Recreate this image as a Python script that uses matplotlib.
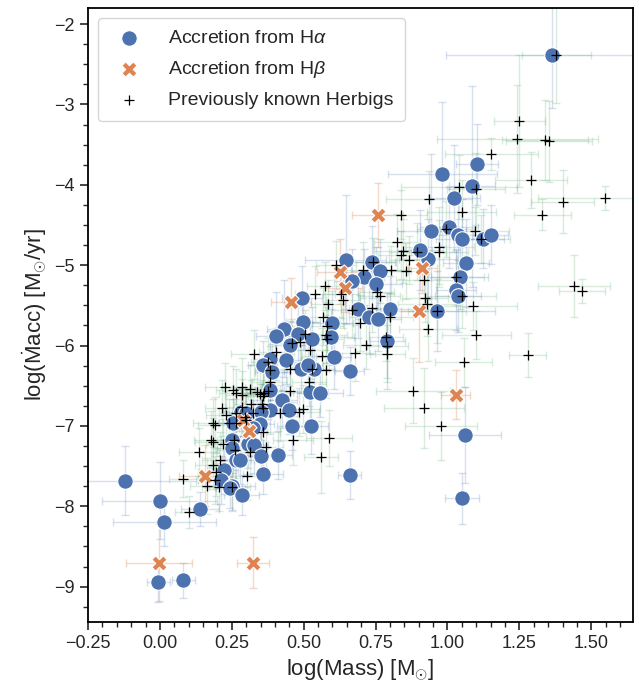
import matplotlib
matplotlib.use("Agg")
import matplotlib.pyplot as plt
from matplotlib.ticker import MultipleLocator
import seaborn as sns

# Accretion from H-alpha: log(Mass), log(Macc) and their errors
ha_mass = [1.365, 1.103, 0.982, 1.085, 1.023, 0.944, 1.005, 1.038, 1.051, 1.125,
           1.150, 0.932, 1.064, 1.042, 0.906, 0.737, 0.764, 0.646, 0.710, 0.667,
           0.752, 1.030, 1.038, 0.964, 0.690, 0.799, 0.727, 0.757, 0.791, 0.660,
           1.060, 0.660, 1.051, 0.495, 0.498, 0.600, 0.433, 0.480, 0.405, 0.530,
           0.596, 0.451, 0.384, 0.440, 0.604, 0.357, 0.391, 0.491, 0.535, 0.516,
           0.523, 0.556, 0.382, 0.426, 0.383, 0.449, 0.351, 0.281, 0.299, 0.458,
           0.525, 0.253, 0.347, 0.324, 0.252, 0.250, 0.307, 0.326, 0.266, 0.278,
           0.350, 0.410, 0.222, 0.359, 0.211, 0.252, 0.245, 0.284, -0.123, 0.000,
           0.139, 0.016, -0.005, 0.081]
ha_macc = [-2.39, -3.745, -3.866, -4.02, -4.17, -4.58, -4.53, -4.63, -4.68, -4.67,
           -4.62, -4.92, -4.97, -5.15, -4.81, -4.96, -5.07, -4.93, -5.15, -5.20,
           -5.23, -5.31, -5.38, -5.57, -5.55, -5.54, -5.65, -5.67, -5.94, -6.32,
           -7.11, -7.61, -7.90, -5.41, -5.71, -5.72, -5.79, -5.86, -5.88, -5.92,
           -5.89, -5.99, -6.17, -6.18, -6.14, -6.24, -6.33, -6.29, -6.29, -6.24,
           -6.58, -6.59, -6.55, -6.68, -6.80, -6.80, -6.83, -6.83, -6.84, -7.00,
           -7.00, -6.96, -6.98, -7.03, -7.17, -7.28, -7.22, -7.24, -7.42, -7.42,
           -7.37, -7.36, -7.55, -7.60, -7.67, -7.75, -7.77, -7.86, -7.68, -7.93,
           -8.03, -8.20, -8.94, -8.92]
ha_mass_err = [0.37, 0.073, 0.19, 0.08, 0.09, 0.12, 0.10, 0.08, 0.09, 0.07,
               0.06, 0.10, 0.08, 0.10, 0.08, 0.08, 0.10, 0.14, 0.07, 0.06,
               0.09, 0.07, 0.08, 0.20, 0.06, 0.08, 0.07, 0.08, 0.06, 0.05,
               0.125, 0.04, 0.06, 0.07, 0.06, 0.07, 0.06, 0.05, 0.07, 0.06,
               0.08, 0.05, 0.06, 0.05, 0.06, 0.05, 0.06, 0.05, 0.07, 0.05,
               0.06, 0.08, 0.05, 0.05, 0.06, 0.05, 0.05, 0.06, 0.05, 0.05,
               0.06, 0.05, 0.05, 0.05, 0.04, 0.05, 0.05, 0.05, 0.05, 0.05,
               0.06, 0.05, 0.05, 0.07, 0.05, 0.08, 0.05, 0.06, 0.25, 0.20,
               0.065, 0.18, 0.04, 0.04]
ha_macc_err = [0.65, 0.50, 0.90, 1.25, 0.67, 0.96, 0.50, 0.45, 0.50, 0.37,
               0.37, 0.50, 0.55, 0.40, 0.50, 0.45, 0.40, 0.80, 0.35, 0.40,
               0.45, 0.50, 0.45, 0.50, 0.35, 0.40, 0.45, 0.40, 0.60, 0.30,
               0.60, 0.30, 0.32, 0.40, 0.35, 0.40, 0.60, 0.35, 0.55, 0.40,
               0.35, 0.30, 0.35, 0.30, 0.40, 0.30, 0.35, 0.30, 0.35, 0.30,
               0.35, 0.30, 0.30, 0.35, 0.30, 0.30, 0.35, 0.30, 0.30, 0.30,
               0.35, 0.30, 0.30, 0.35, 0.30, 0.30, 0.30, 0.35, 0.30, 0.30,
               0.30, 0.30, 0.30, 0.25, 0.30, 0.30, 0.25, 0.25, 0.43, 0.48,
               0.21, 0.30, 0.25, 0.22]

# Accretion from H-beta
hb_mass = [0.757, 0.912, 0.625, 0.643, 0.457, 0.900, 1.028, 0.289, 0.310, 0.157,
           -0.002, 0.324]
hb_macc = [-4.375, -5.04, -5.08, -5.28, -5.46, -5.57, -6.61, -6.93, -7.06, -7.62,
           -8.70, -8.70]
hb_mass_err = [0.09, 0.05, 0.08, 0.06, 0.07, 0.06, 0.05, 0.05, 0.05, 0.09,
               0.115, 0.055]
hb_macc_err = [0.40, 0.30, 0.40, 0.30, 0.30, 0.63, 0.30, 0.30, 0.30, 0.38,
               0.48, 0.32]

# Previously known Herbigs
hb_known_mass = [1.378, 1.250, 1.242, 1.339, 1.354, 1.153, 1.289, 1.400, 1.546, 1.330,
                 1.040, 1.100, 0.936, 1.049, 0.995, 1.094, 1.118, 0.971, 0.972, 1.028,
                 0.840, 0.824, 0.845, 0.839, 0.895, 0.866, 0.803, 0.854, 0.740, 0.706,
                 0.755, 0.764, 0.628, 0.636, 0.920, 1.049, 0.922, 0.928, 0.964, 1.090,
                 0.738, 0.669, 0.801, 0.697, 0.933, 0.787, 0.791, 0.791, 1.100, 0.715,
                 0.677, 1.279, 1.440, 1.466, 1.056, 0.880, 0.918, 0.976, 0.613, 0.573,
                 0.539, 0.585, 0.567, 0.581, 0.505, 0.579, 0.581, 0.459, 0.486, 0.521,
                 0.326, 0.405, 0.563, 0.376, 0.382, 0.451, 0.528, 0.579, 0.518, 0.454,
                 0.227, 0.255, 0.285, 0.266, 0.3125, 0.336, 0.347, 0.362, 0.357, 0.377,
                 0.382, 0.287, 0.216, 0.231, 0.266, 0.287, 0.316, 0.324, 0.359, 0.355,
                 0.417, 0.484, 0.498, 0.185, 0.191, 0.240, 0.266, 0.295, 0.301, 0.357,
                 0.177, 0.183, 0.220, 0.257, 0.260, 0.368, 0.3125, 0.137, 0.208, 0.183,
                 0.463, 0.588, 0.561, 0.304, 0.081, 0.194, 0.191, 0.164, 0.206, 0.252,
                 0.102]
hb_known_macc = [-2.38, -3.21, -3.43, -3.44, -3.46, -3.62, -3.94, -4.21, -4.16, -4.37,
                 -4.03, -4.05, -4.18, -4.34, -4.55, -4.57, -4.67, -4.77, -4.84, -5.15,
                 -4.37, -4.71, -4.82, -4.87, -4.83, -4.94, -5.06, -5.07, -4.96, -5.06,
                 -5.33, -5.38, -5.36, -5.43, -5.19, -5.38, -5.41, -5.48, -5.57, -5.51,
                 -5.53, -5.56, -5.65, -5.72, -5.79, -5.89, -6.00, -6.10, -5.87, -5.99,
                 -6.09, -6.12, -5.26, -5.32, -6.21, -6.56, -6.78, -7.00, -5.00, -5.26,
                 -5.36, -5.48, -5.64, -5.76, -5.86, -5.87, -5.92, -5.97, -5.96, -6.06,
                 -6.11, -6.08, -6.13, -6.20, -6.31, -6.29, -6.29, -6.30, -6.45, -6.56,
                 -6.52, -6.55, -6.51, -6.59, -6.54, -6.58, -6.60, -6.59, -6.63, -6.56,
                 -6.45, -6.62, -6.78, -6.86, -6.84, -6.77, -6.73, -6.84, -6.78, -6.73,
                 -6.84, -6.83, -6.79, -6.96, -6.99, -6.96, -6.96, -6.89, -6.93, -7.07,
                 -7.17, -7.20, -7.22, -7.17, -7.30, -7.26, -7.32, -7.32, -7.42, -7.49,
                 -7.18, -7.15, -7.39, -7.62, -7.66, -7.57, -7.67, -7.75, -7.76, -7.76,
                 -8.07]
hb_known_mass_err = [0.12, 0.09, 0.28, 0.15, 0.15, 0.16, 0.125, 0.11, 0.23, 0.10,
                     0.20, 0.10, 0.15, 0.12, 0.10, 0.12, 0.10, 0.12, 0.10, 0.10,
                     0.09, 0.08, 0.10, 0.08, 0.10, 0.07, 0.07, 0.08, 0.08, 0.07,
                     0.06, 0.07, 0.06, 0.06, 0.10, 0.12, 0.08, 0.10, 0.10, 0.15,
                     0.08, 0.07, 0.08, 0.07, 0.10, 0.06, 0.07, 0.06, 0.12, 0.08,
                     0.07, 0.065, 0.125, 0.08, 0.10, 0.13, 0.14, 0.125, 0.07, 0.06,
                     0.07, 0.06, 0.07, 0.06, 0.06, 0.07, 0.06, 0.06, 0.05, 0.06,
                     0.08, 0.06, 0.07, 0.06, 0.05, 0.06, 0.06, 0.07, 0.06, 0.06,
                     0.07, 0.06, 0.07, 0.06, 0.06, 0.07, 0.06, 0.06, 0.05, 0.06,
                     0.06, 0.06, 0.06, 0.07, 0.06, 0.06, 0.06, 0.05, 0.06, 0.06,
                     0.06, 0.07, 0.06, 0.07, 0.06, 0.06, 0.06, 0.06, 0.05, 0.06,
                     0.06, 0.06, 0.06, 0.06, 0.06, 0.06, 0.06, 0.07, 0.06, 0.06,
                     0.07, 0.08, 0.06, 0.06, 0.05, 0.06, 0.06, 0.06, 0.06, 0.06,
                     0.05]
hb_known_macc_err = [0.60, 0.82, 0.67, 0.50, 0.50, 0.20, 0.35, 0.39, 0.15, 0.19,
                     0.40, 0.45, 0.35, 0.40, 0.35, 0.30, 0.30, 0.50, 0.40, 0.35,
                     0.30, 0.35, 0.40, 0.30, 0.35, 0.30, 0.30, 0.35, 0.30, 0.35,
                     0.30, 0.35, 0.30, 0.35, 0.35, 0.40, 0.30, 0.40, 0.40, 0.30,
                     0.30, 0.35, 0.30, 0.35, 0.40, 0.30, 0.40, 0.35, 0.30, 0.30,
                     0.35, 0.27, 0.39, 0.15, 0.30, 0.40, 0.50, 0.42, 0.30, 0.30,
                     0.35, 0.30, 0.35, 0.30, 0.30, 0.35, 0.30, 0.30, 0.30, 0.35,
                     0.30, 0.30, 0.35, 0.30, 0.30, 0.30, 0.30, 0.35, 0.30, 0.35,
                     0.30, 0.30, 0.35, 0.30, 0.30, 0.35, 0.30, 0.30, 0.30, 0.35,
                     0.30, 0.30, 0.35, 0.30, 0.30, 0.35, 0.30, 0.30, 0.30, 0.30,
                     0.35, 0.30, 0.30, 0.30, 0.35, 0.30, 0.30, 0.30, 0.30, 0.30,
                     0.35, 0.30, 0.30, 0.30, 0.35, 0.30, 0.30, 0.30, 0.35, 0.30,
                     0.30, 0.35, 0.45, 0.30, 0.23, 0.30, 0.30, 0.35, 0.30, 0.30,
                     0.20]

BLUE = "#4C72B0"
ORANGE = "#DD8452"
GREEN = "#55A868"


def make_plot():
    sns.set_style("ticks")
    plt.rcParams['font.family'] = ['Liberation Sans', 'DejaVu Sans']
    plt.rcParams['mathtext.fontset'] = 'custom'
    plt.rcParams['mathtext.rm'] = 'Liberation Sans'
    plt.rcParams['mathtext.it'] = 'Liberation Sans:italic'

    fig = plt.figure(figsize=(6.39, 6.89), dpi=100)
    ax = fig.add_axes([0.1377, 0.0972, 0.8529, 0.8912])

    # error bars underneath the markers
    ax.errorbar(hb_known_mass, hb_known_macc, xerr=hb_known_mass_err, yerr=hb_known_macc_err,
                fmt='none', ecolor=GREEN, alpha=0.22, capsize=3, elinewidth=1, zorder=1)
    ax.errorbar(ha_mass, ha_macc, xerr=ha_mass_err, yerr=ha_macc_err,
                fmt='none', ecolor=BLUE, alpha=0.22, capsize=3, elinewidth=1, zorder=1)
    ax.errorbar(hb_mass, hb_macc, xerr=hb_mass_err, yerr=hb_macc_err,
                fmt='none', ecolor=ORANGE, alpha=0.3, capsize=3, elinewidth=1, zorder=1)

    ax.scatter(ha_mass, ha_macc, s=125, color=BLUE, edgecolor='white', linewidth=0.8,
               zorder=2, label=r"Accretion from H$\alpha$")
    ax.scatter(hb_mass, hb_macc, s=120, color=ORANGE, marker='X', edgecolor='white',
               linewidth=0.8, zorder=3, label=r"Accretion from H$\beta$")
    ax.scatter(hb_known_mass, hb_known_macc, s=60, color='black', marker='+',
               linewidth=0.9, zorder=4, label="Previously known Herbigs")

    ax.set_xlim(-0.25, 1.645)
    ax.set_ylim(-9.44, -1.80)
    ax.xaxis.set_major_locator(MultipleLocator(0.25))
    ax.xaxis.set_minor_locator(MultipleLocator(0.05))
    ax.yaxis.set_major_locator(MultipleLocator(1))
    ax.yaxis.set_minor_locator(MultipleLocator(0.25))
    ax.tick_params(which='major', direction='out', length=6, width=1.2, labelsize=13)
    ax.tick_params(which='minor', direction='out', length=3.5, width=1)
    for side in ax.spines.values():
        side.set_linewidth(1.3)
        side.set_color('black')

    ax.set_xlabel(r"log(Mass) [M$_{\odot}$]", fontsize=16)
    ax.set_ylabel(r"log($\dot{\mathrm{M}}$acc) [M$_{\odot}$/yr]", fontsize=16)

    ax.legend(loc='upper left', fontsize=14, frameon=True, labelspacing=0.6,
              borderpad=0.6, handletextpad=1.0)

    plt.savefig("out.png", dpi=100)


if __name__ == "__main__":
    make_plot()
